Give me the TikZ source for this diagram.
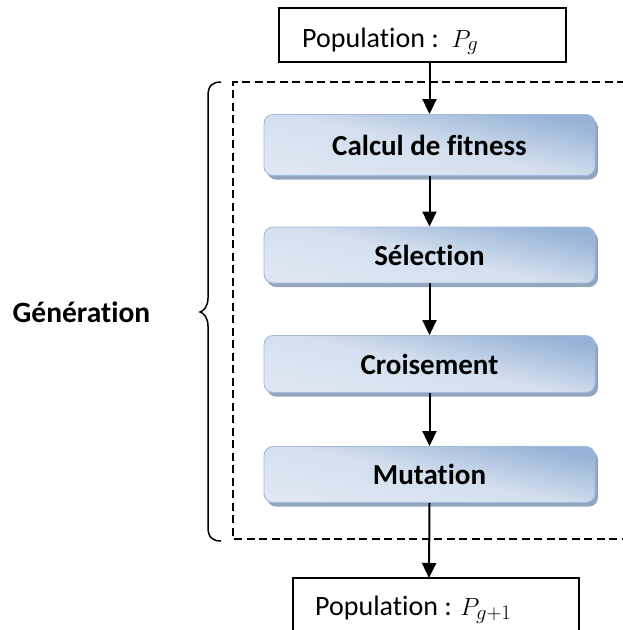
\documentclass[tikz,border=0pt]{standalone}
\usepackage{fontspec}
\setmainfont{Carlito}[Ligatures=NoCommon]
\usetikzlibrary{arrows.meta,shadows}
\definecolor{stepedge}{RGB}{160,186,220}
\definecolor{stepdark}{RGB}{150,178,214}
\definecolor{steplight}{RGB}{222,231,243}
\definecolor{stepshadow}{RGB}{128,148,178}
\tikzset{
  stepbox/.style={draw=stepedge, line width=0.9pt, rounded corners=9pt,
    minimum width=331pt, top color=stepdark, bottom color=steplight,
    middle color=steplight!85!stepdark, shading angle=-12,
    drop shadow={shadow xshift=3pt, shadow yshift=-4pt, fill=stepshadow, opacity=0.85},
    font=\fontsize{29}{34}\selectfont\bfseries, inner sep=0pt},
  popbox/.style={draw, line width=1.4pt, minimum width=287pt, minimum height=54pt,
    inner sep=0pt},
  poptext/.style={anchor=base west, inner sep=0pt, font=\fontsize{28}{33}\selectfont},
  flow/.style={line width=2pt, -{Triangle[width=14pt,length=15pt]}},
  framebox/.style={line width=1.3pt, dash pattern=on 8pt off 4.5pt},
  bracestyle/.style={line width=1.5pt},
}
\begin{document}
\begin{tikzpicture}[x=1pt,y=-1pt]
\useasboundingbox (0,0) rectangle (623,630);
\clip (0,0) rectangle (623,630);
% dashed frame around one generation
\draw[framebox] (700,82) -- (233,82) -- (233,539) -- (700,539);
% population boxes
\node[popbox] (pg) at (422.5,35) {};
\node[poptext] (pgt) at (302,47) {Population :\ \ $P_g$};
\node[popbox, minimum width=286pt, minimum height=80pt] (pn) at (436,618) {};
\coordinate (pntop) at (429,578);
\begin{scope}
  \clip (0,0) rectangle (623,625);
  \node[poptext] (pnt) at (315,615) {Population : $P_{g+1}$};
\end{scope}
% steps of the generation
\node[stepbox, minimum height=61pt] (fit) at (429.5,145) {Calcul de fitness};
\node[stepbox, minimum height=56pt] (sel) at (429.5,255) {Sélection};
\node[stepbox, minimum height=57pt] (cro) at (429.5,364) {Croisement};
\node[stepbox, minimum height=56pt] (mut) at (429.5,474.5) {Mutation};
% flow arrows
\draw[flow] (pg.south -| fit.north) -- (fit.north);
\draw[flow] (fit.south) -- (sel.north);
\draw[flow] (sel.south) -- (cro.north);
\draw[flow] (cro.south) -- (mut.north);
\draw[flow] (mut.south) -- (pntop);
% brace and label
\draw[bracestyle] (221,82) .. controls (212,82) and (208,86) .. (208,96)
  -- (208,298) .. controls (208,306) and (204,311) .. (200,312)
  .. controls (204,313) and (208,318) .. (208,326)
  -- (208,527) .. controls (208,537) and (212,541) .. (221,541);
\node[font=\fontsize{29.5}{34}\selectfont\bfseries] (gen) at (81.5,312) {Génération};
\end{tikzpicture}
\end{document}
